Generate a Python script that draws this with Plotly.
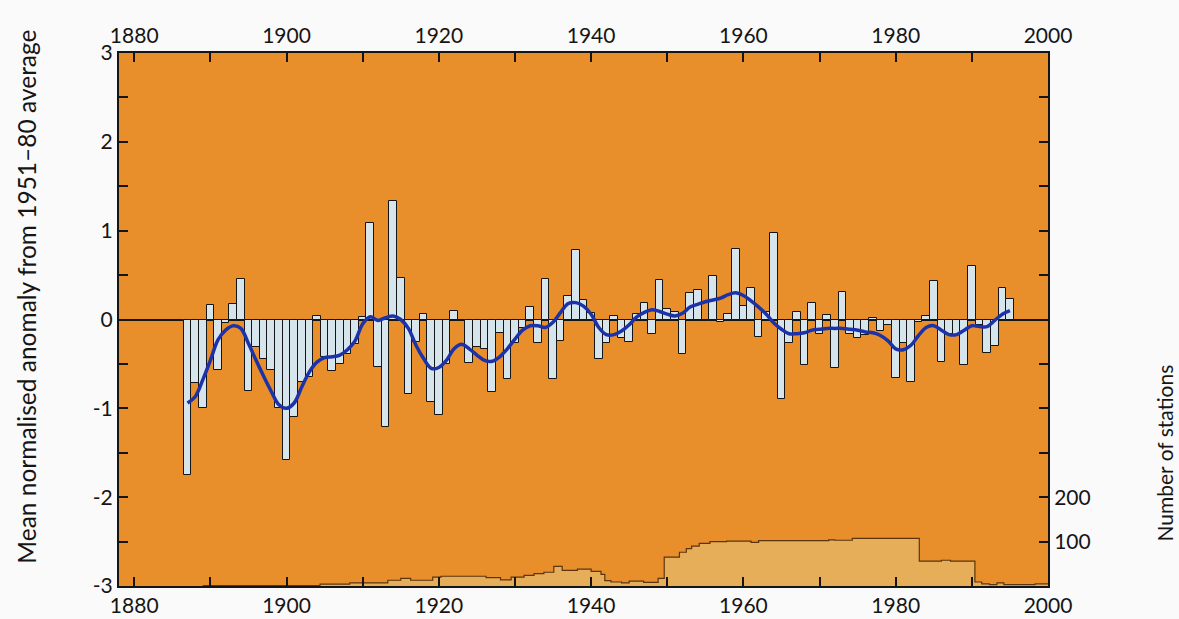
import plotly.graph_objects as go

# ---------------- data ----------------
years = list(range(1887, 1996))
anomaly = [
    -1.75, -0.72, -1.00, 0.16, -0.57, -0.04, 0.18, 0.46, -0.80, -0.31,   # 1887-1896
    -0.45, -0.57, -1.00, -1.58, -1.10, -0.70, -0.65, 0.04, -0.42, -0.58,  # 1897-1906
    -0.50, -0.39, -0.28, 0.03, 1.09, -0.54, -1.21, 1.33, 0.47, -0.84,     # 1907-1916
    -0.25, 0.06, -0.93, -1.07, -0.50, 0.10, -0.02, -0.49, -0.31, -0.33,   # 1917-1926
    -0.82, -0.15, -0.67, -0.27, -0.10, 0.14, -0.26, 0.46, -0.67, -0.24,   # 1927-1936
    0.27, 0.78, 0.22, 0.07, -0.44, -0.26, 0.04, -0.21, -0.25, 0.06,       # 1937-1946
    0.19, -0.16, 0.44, 0.12, 0.08, -0.39, 0.30, 0.33, -0.02, 0.49,        # 1947-1956
    -0.03, 0.06, 0.79, 0.15, 0.36, -0.20, 0.09, 0.97, -0.89, -0.27,       # 1957-1966
    0.09, -0.51, 0.19, -0.16, 0.05, -0.55, 0.31, -0.16, -0.21, -0.18,     # 1967-1976
    0.02, -0.13, -0.06, -0.66, -0.27, -0.70, -0.03, 0.04, 0.43, -0.48,    # 1977-1986
    -0.16, -0.18, -0.51, 0.60, -0.06, -0.38, -0.30, 0.36, 0.23,           # 1987-1995
]

smooth_years = list(range(1887, 1996))
smooth_vals = [
    -0.94, -0.87, -0.68, -0.46, -0.23, -0.12, -0.07, -0.10, -0.27, -0.46,
    -0.64, -0.81, -0.96, -1.00, -0.94, -0.76, -0.59, -0.48, -0.43, -0.42,
    -0.40, -0.34, -0.24, -0.05, 0.03, -0.01, 0.02, 0.04, 0.00, -0.10,
    -0.29, -0.44, -0.55, -0.54, -0.46, -0.33, -0.28, -0.33, -0.40, -0.46,
    -0.47, -0.42, -0.33, -0.22, -0.12, -0.07, -0.07, -0.09, -0.03, 0.08,
    0.18, 0.19, 0.15, 0.06, -0.09, -0.17, -0.17, -0.13, -0.06, 0.03,
    0.08, 0.11, 0.09, 0.06, 0.04, 0.07, 0.14, 0.17, 0.20, 0.22,
    0.24, 0.28, 0.30, 0.27, 0.21, 0.14, 0.06, -0.04, -0.11, -0.16,
    -0.16, -0.15, -0.12, -0.11, -0.10, -0.10, -0.10, -0.11, -0.12, -0.14,
    -0.15, -0.18, -0.24, -0.33, -0.34, -0.29, -0.18, -0.09, -0.07, -0.12,
    -0.17, -0.17, -0.12, -0.07, -0.08, -0.08, -0.01, 0.06, 0.10,
]

station_x = [1889, 1904.4, 1908.3, 1913.3, 1915, 1916.3, 1919.2, 1920.3, 1926.2,
             1928.1, 1929.5, 1931.2, 1932.5, 1933.8, 1935.1, 1936.2, 1938.2,
             1940, 1941.3, 1941.8, 1942.6, 1944, 1945, 1946.9, 1948.8, 1949.6,
             1951.6, 1952.5, 1953.2, 1954.2, 1955.6, 1957.8, 1961, 1962,
             1971.2, 1972, 1974.3, 1983.1, 1986, 1987.2, 1990.4, 1991.3,
             1992.3, 1993.3, 1994.2, 1998.3, 2000]
station_n = [1, 4, 7, 13, 17, 13, 20, 22, 19,
             14, 20, 24, 28, 31, 44, 35, 38,
             33, 26, 12, 9, 7, 11, 8, 17, 65,
             76, 84, 90, 96, 100, 101, 98, 102,
             104, 103, 107, 56, 58, 56, 9, 5,
             3, 7, 3, 5, 5]

decade_ticks = list(range(1880, 2001, 10))
decade_labels = [str(v) if v % 20 == 0 else "" for v in decade_ticks]
anom_ticks = [-3 + 0.5 * i for i in range(13)]
anom_labels = ["%d" % v if float(v).is_integer() else "" for v in anom_ticks]
stat_ticks = list(range(0, 1201, 100))
stat_labels = [str(v) if v in (100, 200) else "" for v in stat_ticks]

# ---------------- styling ----------------
FY = 619 / 629          # observed vertical squeeze of the photograph
W, H = 1179, 629
ML, MR = 119, 131
MT = round(52 / FY)
MB = H - round(586 / FY)
PW, PH = W - ML - MR, H - MT - MB
FONT = "Lato"
ORANGE = "#E88F2C"
TAN = "#E6AE58"
BAR = "#D6E4EC"
BLUE = "#1C32A8"
INK = "#151515"


def px_x(page_x):
    return (page_x - ML) / PW


def px_y(page_y):
    return (H - page_y / FY - MB) / PH


fig = go.Figure()

fig.add_trace(go.Scatter(
    x=station_x, y=station_n, xaxis="x", yaxis="y2",
    mode="lines", line=dict(shape="hv", color="#5a3510", width=1.2),
    fill="tozeroy", fillcolor=TAN, hoverinfo="skip", showlegend=False,
))

fig.add_trace(go.Bar(
    x=years, y=anomaly, width=1.0, xaxis="x", yaxis="y",
    marker=dict(color=BAR, line=dict(color=INK, width=1)),
    showlegend=False,
))

fig.add_trace(go.Scatter(
    x=smooth_years, y=smooth_vals, xaxis="x2", yaxis="y",
    mode="lines", line=dict(shape="spline", smoothing=1.0, color=BLUE, width=3.5),
    showlegend=False,
))

tickfont = dict(family=FONT, size=21, color=INK)
xcommon = dict(
    range=[1878, 2000], tickmode="array", tickvals=decade_ticks, ticktext=decade_labels,
    ticks="inside", ticklen=9, tickwidth=2, tickcolor=INK,
    showline=True, linecolor=INK, linewidth=2, showgrid=False, zeroline=False,
    tickfont=tickfont,
)

fig.update_layout(
    width=W, height=H,
    margin=dict(l=ML, r=MR, t=MT, b=MB),
    paper_bgcolor="#FAFAFA",
    plot_bgcolor=ORANGE,
    bargap=0,
    xaxis=dict(**xcommon, side="bottom", anchor="y"),
    xaxis2=dict(**xcommon, side="top", overlaying="x", anchor="y"),
    yaxis=dict(
        range=[-3, 3], tickmode="array", tickvals=anom_ticks, ticktext=anom_labels,
        ticks="inside", ticklen=9, tickwidth=2, tickcolor=INK,
        showline=True, linecolor=INK, linewidth=2, showgrid=False,
        zeroline=True, zerolinecolor=INK, zerolinewidth=2,
        tickfont=tickfont,
    ),
    yaxis2=dict(
        range=[0, 1200], overlaying="y", side="right", anchor="x",
        tickmode="array", tickvals=stat_ticks, ticktext=stat_labels,
        ticks="inside", ticklen=9, tickwidth=2, tickcolor=INK,
        showline=True, linecolor=INK, linewidth=2, showgrid=False, zeroline=False,
        tickfont=tickfont,
    ),
    annotations=[
        dict(text="Mean normalised anomaly from 1951\u201380 average",
             xref="paper", yref="paper", x=px_x(27), y=px_y(296),
             xanchor="center", yanchor="middle",
             textangle=-90, showarrow=False,
             font=dict(family=FONT, size=24.5, color=INK)),
        dict(text="Number of stations",
             xref="paper", yref="paper", x=px_x(1165), y=px_y(453),
             xanchor="center", yanchor="middle",
             textangle=-90, showarrow=False,
             font=dict(family=FONT, size=21, color=INK)),
    ],
)

fig.write_html(
    "out.html",
    config={"displayModeBar": False},
    post_script=(
        "document.body.style.margin='0';"
        "document.body.style.overflow='hidden';"
        "document.documentElement.style.overflow='hidden';"
    ),
)
